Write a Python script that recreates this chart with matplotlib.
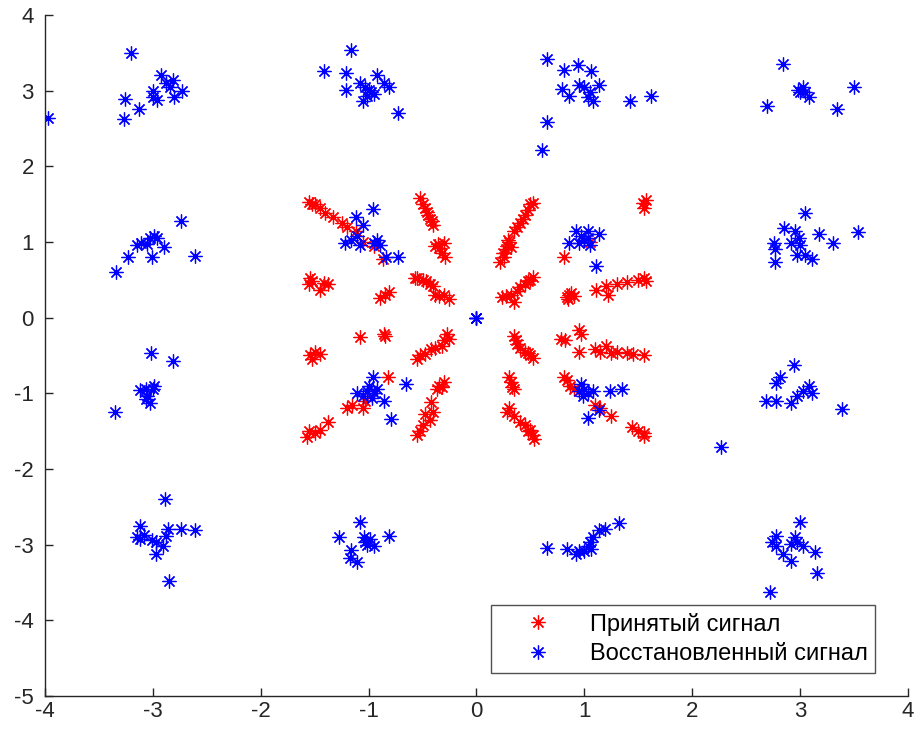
import matplotlib
matplotlib.use("Agg")
import matplotlib.pyplot as plt

plt.rcParams['font.family'] = ['Liberation Sans', 'DejaVu Sans']
plt.rcParams['axes.unicode_minus'] = False

# Received signal (red)
rx_x = [0.22, 0.25, 0.27, 0.28, 0.30, 0.32, 0.35, 0.38, 0.40, 0.43, 0.45, 0.48, 0.50, 0.52, 0.26, 0.29,
        0.86, 0.84, 0.88, 0.90, 0.85, 1.11, 1.20, 1.22, 1.30, 1.40, 1.50, 1.55, 1.57,
        0.24, 0.27, 0.32, 0.35, 0.38, 0.40, 0.45, 0.48, 0.50, 0.52,
        1.54, 1.55, 1.57, 0.81, 1.05,
        -0.52, -0.50, -0.48, -0.46, -0.45, -0.43, -0.40, -0.41, -0.38, -0.35, -0.32, -0.30, -0.29, -0.36,
        -1.55, -1.52, -1.50, -1.45, -1.40, -1.33, -1.25, -1.20, -1.12, -1.05, -0.95, -0.87,
        -1.54, -1.52, -1.55, -1.41, -1.38, -1.45, -0.89, -0.81, -0.85,
        -0.57, -0.55, -0.50, -0.47, -0.43, -0.40, -0.38, -0.35, -0.30, -0.25,
        -1.54, -1.52, -1.50, -1.45, -1.08, -0.86, -0.85,
        -0.55, -0.52, -0.48, -0.42, -0.38, -0.32, -0.30, -0.27, -0.25,
        -1.57, -1.55, -1.50, -1.45, -1.38, -1.20, -1.15, -1.05, -1.03, -0.82,
        -0.55, -0.52, -0.50, -0.48, -0.43, -0.40, -0.42, -0.37, -0.35, -0.30, -0.32,
        0.35, 0.37, 0.38, 0.40, 0.45, 0.50, 0.52, 0.48,
        0.78, 0.82, 0.95, 0.97, 0.95, 1.10, 1.15, 1.20, 1.25, 1.30, 1.40, 1.45, 1.55,
        0.30, 0.32, 0.33, 0.35, 0.30, 0.28, 0.35, 0.40, 0.45, 0.50, 0.52, 0.53, 0.48,
        0.81, 0.84, 0.87, 0.90, 1.10, 1.15, 1.25, 1.44, 1.50, 1.55, 1.55]
rx_y = [0.74, 0.85, 0.90, 0.95, 1.00, 0.93, 1.15, 1.20, 1.25, 1.30, 1.35, 1.42, 1.50, 1.52, 0.80, 1.02,
        0.30, 0.27, 0.32, 0.28, 0.25, 0.37, 0.42, 0.30, 0.44, 0.47, 0.50, 0.52, 0.48,
        0.27, 0.29, 0.30, 0.20, 0.35, 0.40, 0.45, 0.48, 0.50, 0.53,
        1.52, 1.45, 1.55, 0.80, 1.00,
        1.58, 1.50, 1.45, 1.40, 1.35, 1.30, 1.22, 1.27, 0.95, 0.92, 0.85, 0.98, 0.80, 0.97,
        1.53, 1.50, 1.50, 1.45, 1.38, 1.33, 1.25, 1.20, 1.15, 1.00, 0.95, 0.78,
        0.52, 0.48, 0.45, 0.46, 0.45, 0.37, 0.26, 0.34, 0.30,
        0.52, 0.52, 0.50, 0.48, 0.45, 0.42, 0.30, 0.28, 0.30, 0.25,
        -0.50, -0.55, -0.45, -0.48, -0.26, -0.22, -0.25,
        -0.55, -0.50, -0.48, -0.42, -0.40, -0.38, -0.30, -0.22, -0.28,
        -1.58, -1.50, -1.52, -1.48, -1.38, -1.20, -1.15, -1.20, -1.10, -0.78,
        -1.55, -1.50, -1.42, -1.28, -1.35, -1.25, -1.12, -0.95, -0.90, -0.85, -0.92,
        -0.25, -0.30, -0.35, -0.40, -0.45, -0.50, -0.53, -0.47,
        -0.28, -0.30, -0.17, -0.22, -0.45, -0.42, -0.45, -0.38, -0.47, -0.45, -0.47, -0.48, -0.50,
        -0.78, -0.85, -0.92, -0.95, -1.20, -1.25, -1.30, -1.38, -1.42, -1.48, -1.55, -1.60, -1.50,
        -0.78, -0.83, -0.90, -0.95, -1.15, -1.20, -1.30, -1.44, -1.50, -1.57, -1.52]

# Recovered signal (blue)
rec_x = [-3.20, -3.26, -3.27, -3.13, -3.00, -2.96, -2.92, -2.88, -2.81, -2.80, -2.73, -3.00, -2.84, -3.97,
         -1.16, -1.41, -1.21, -1.21, -1.05, -1.00, -0.92, -0.86, -0.81, -0.73, -0.95, -1.03, -1.08, -0.98, -1.01,
         0.65, 0.65, 0.61, 0.81, 0.94, 1.06, 0.79, 0.86, 1.00, 1.05, 1.08, 1.14, 1.42, 1.62, 0.95, 1.03,
         2.84, 2.69, 2.98, 3.03, 3.05, 3.08, 3.34, 3.50, 3.00,
         -3.34, -3.23, -3.15, -3.11, -3.05, -3.01, -2.99, -2.96, -2.90, -2.74, -2.61, -3.03,
         -3.02, -2.81, -3.35, -3.12, -3.06, -3.00, -3.05, -3.03, -3.06, -2.99,
         -2.89, -2.85, -3.12, -3.15, -3.08, -2.97, -2.97, -2.91, -2.88, -2.86, -2.74, -2.61, -3.01, -3.12,
         -1.08, -1.27, -1.16, -1.17, -1.11, -1.04, -1.01, -0.95, -0.81, -1.03, -0.99,
         0.65, 0.84, 0.92, 1.00, 1.03, 1.05, 1.08, 1.14, 1.19, 1.32, 0.95, 1.06,
         3.00, 2.78, 2.74, 2.78, 2.84, 2.92, 2.95, 2.97, 3.03, 3.14, 3.16, 2.72, 2.92,
         2.94, 2.81, 2.78, 2.68, 2.78, 2.92, 2.97, 3.03, 3.08, 3.11, 3.39, 2.27,
         3.05, 2.85, 2.76, 2.77, 2.77, 2.95, 2.99, 2.92, 3.00, 3.05, 3.11, 3.18, 3.31, 3.54, 2.97,
         -1.12, -1.05, -0.96, -1.22, -1.16, -1.11, -1.08, -0.95, -0.89, -0.84, -0.73, -0.92,
         0.92, 1.03, 0.86, 0.95, 1.00, 1.05, 1.14, 1.11, 1.03, 0.97,
         -0.96, -0.65, -1.11, -1.05, -1.01, -0.97, -0.92, -0.86, -0.79, -1.00, -0.95,
         0.97, 1.00, 0.95, 1.03, 1.08, 1.03, 1.14, 1.24, 1.35, 0.99,
         0.0, 0.0, 0.0]
rec_y = [3.49, 2.89, 2.62, 2.76, 3.00, 2.87, 3.21, 3.10, 3.14, 2.92, 2.99, 2.92, 3.04, 2.64,
         3.54, 3.26, 3.23, 3.01, 2.86, 3.01, 3.20, 3.10, 3.04, 2.70, 2.95, 3.04, 3.10, 2.98, 2.93,
         3.42, 2.59, 2.22, 3.27, 3.34, 3.26, 3.02, 2.93, 3.04, 2.98, 2.86, 3.07, 2.86, 2.93, 3.07, 2.92,
         3.35, 2.79, 3.01, 3.04, 2.98, 2.92, 2.76, 3.04, 2.98,
         0.60, 0.80, 0.96, 0.99, 0.97, 0.80, 1.08, 1.05, 0.93, 1.28, 0.82, 1.05,
         -0.47, -0.57, -1.25, -0.96, -0.94, -0.94, -1.03, -1.13, -1.08, -0.90,
         -2.40, -3.48, -2.76, -2.90, -2.87, -2.96, -3.12, -3.02, -2.89, -2.79, -2.79, -2.81, -2.94, -2.92,
         -2.70, -2.90, -3.07, -3.18, -3.23, -2.90, -3.01, -3.02, -2.88, -2.96, -2.92,
         -3.04, -3.06, -3.12, -3.09, -3.02, -2.97, -2.90, -2.81, -2.79, -2.71, -3.08, -3.06,
         -2.70, -2.89, -2.96, -3.02, -3.12, -3.21, -2.90, -2.96, -3.02, -3.10, -3.37, -3.63, -2.99,
         -0.62, -0.78, -0.86, -1.10, -1.10, -1.13, -1.03, -0.97, -0.91, -1.00, -1.21, -1.71,
         1.38, 1.18, 0.99, 0.90, 0.74, 1.15, 1.05, 0.99, 0.96, 0.83, 0.77, 1.10, 0.98, 1.13, 0.83,
         1.33, 1.22, 1.44, 0.99, 1.02, 1.08, 0.96, 0.99, 0.96, 0.80, 0.80, 1.02,
         1.15, 1.15, 0.99, 0.99, 1.02, 0.96, 1.10, 0.68, 1.05, 1.08,
         -0.78, -0.88, -1.00, -1.03, -0.97, -1.06, -0.94, -1.10, -1.34, -0.91, -1.00,
         -0.88, -0.94, -0.97, -1.00, -0.97, -1.33, -1.22, -0.97, -0.94, -1.03,
         0.0, 0.0, 0.0]

x_ticks = [-4, -3, -2, -1, 0, 1, 2, 3, 4]
y_ticks = [-5, -4, -3, -2, -1, 0, 1, 2, 3, 4]
labels = ['Принятый сигнал', 'Восстановленный сигнал']

fig = plt.figure(figsize=(9.18, 7.42), dpi=100)
ax = fig.add_axes([0.049, 0.062, 0.940, 0.918])

ast = (8, 2, 0)
ax.plot(rx_x, rx_y, linestyle='none', marker=ast, markersize=10, markeredgewidth=0.9,
        color=(1, 0, 0), label=labels[0])
ax.plot(rec_x, rec_y, linestyle='none', marker=ast, markersize=10, markeredgewidth=0.9,
        color=(0, 0, 1), label=labels[1])

ax.set_xlim(-4, 4)
ax.set_ylim(-5, 4)
ax.set_xticks(x_ticks)
ax.set_yticks(y_ticks)
ax.spines['top'].set_visible(False)
ax.spines['right'].set_visible(False)
for s in ['left', 'bottom']:
    ax.spines[s].set_color('#262626')
    ax.spines[s].set_linewidth(1.0)
ax.tick_params(direction='in', length=6, width=1.0, colors='#262626', labelsize=16,
               labelcolor='#262626')
ax.tick_params(axis='y', pad=8)

leg = ax.legend(loc='lower right', bbox_to_anchor=(0.962, 0.034), borderaxespad=0,
                fontsize=17, frameon=True, fancybox=False, edgecolor='#262626',
                handletextpad=0.55, borderpad=0.32, labelspacing=0.32, handlelength=3.3)
leg.get_frame().set_linewidth(1.0)

fig.savefig('out.png', dpi=100)
